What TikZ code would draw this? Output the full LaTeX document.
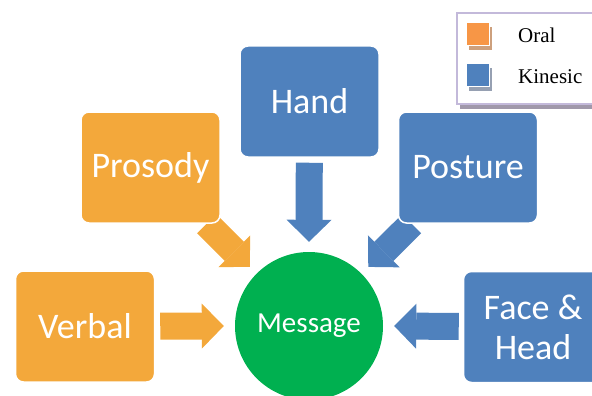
\documentclass[tikz,border=0pt]{standalone}
\usepackage{fontspec}
\usepackage{xcolor}
\usepackage{tikz}
\usetikzlibrary{arrows.meta, positioning, shadows, backgrounds}
\newfontfamily\boxfont{Carlito}
\newfontfamily\keyfont{Liberation Serif}
\definecolor{oralbox}{RGB}{243,168,59}
\definecolor{kinbox}{RGB}{79,129,189}
\definecolor{msggreen}{RGB}{0,176,80}
\definecolor{oralkey}{RGB}{247,150,70}
\definecolor{oralshadow}{RGB}{205,160,125}
\definecolor{kinshadow}{RGB}{150,160,178}
\definecolor{keyborder}{RGB}{195,185,218}
\definecolor{keyshadow}{RGB}{160,152,170}

\begin{document}
\begin{tikzpicture}[x=1pt, y=-1pt,
    box/.style={rectangle, draw=white, line width=1.5pt, rounded corners=8pt,
                minimum width=139pt, minimum height=111pt, inner sep=0pt,
                align=center, text=white, font=\boxfont\fontsize{36}{40}\selectfont},
    flow/.style={line width=27pt, -{Triangle[length=22pt, width=45pt, line width=0pt]}},
    keybox/.style={rectangle, draw=white, line width=0.6pt, minimum size=23pt, inner sep=0pt},
    keytext/.style={anchor=base west, inner sep=0pt, font=\keyfont\fontsize{21}{24}\selectfont},
]
\useasboundingbox (0,0) rectangle (592,396);
\clip (0,0) rectangle (592,396);

\node[box, fill=oralbox] (verbal)  at (85,326.5)    {Verbal};
\node[box, fill=oralbox] (prosody) at (150.5,167.5) {Prosody};
\node[box, fill=kinbox]  (hand)    at (309.5,101.5) {Hand};
\node[box, fill=kinbox]  (posture) at (468,167.5)   {Posture};
\node[box, fill=kinbox]  (face)    at (533,327)     {Face \&\\Head};
\node[circle, fill=msggreen, minimum size=148pt, inner sep=0pt, text=white,
      font=\boxfont\fontsize{29}{32}\selectfont] (msg) at (309,326) {Message};

% block arrows into the message
\begin{scope}[on background layer]
\draw[flow, oralbox, shorten <=5pt]  (verbal)  -- ([xshift=-11pt]msg.west);
\draw[flow, oralbox, shorten >=9.5pt] (prosody) -- (msg);
\draw[flow, kinbox, shorten <=5pt]   (hand)    -- ([yshift=10pt]msg.north);
\draw[flow, kinbox, shorten >=9.5pt] (posture) -- (msg);
\draw[flow, kinbox, shorten <=4pt]   (face)    -- ([xshift=11pt]msg.east);
\end{scope}

% legend
\node[rectangle, draw=keyborder, line width=1.2pt, fill=white, minimum width=148pt,
      minimum height=91pt, drop shadow={shadow xshift=3pt, shadow yshift=-5pt,
      fill=keyshadow, opacity=1}] (key) at (531,58.5) {};
\node[keybox, fill=oralkey, drop shadow={shadow xshift=3pt, shadow yshift=-5pt,
      fill=oralshadow, opacity=1}] (oral) at (477.5,34) {};
\node[keybox, fill=kinbox, drop shadow={shadow xshift=3pt, shadow yshift=-5pt,
      fill=kinshadow, opacity=1}] (kinesic) at (477.5,74.5) {};
\node[keytext] (oraltext) at (518,43) {Oral};
\node[keytext] (kintext)  at (518,84) {Kinesic};
\end{tikzpicture}
\end{document}
